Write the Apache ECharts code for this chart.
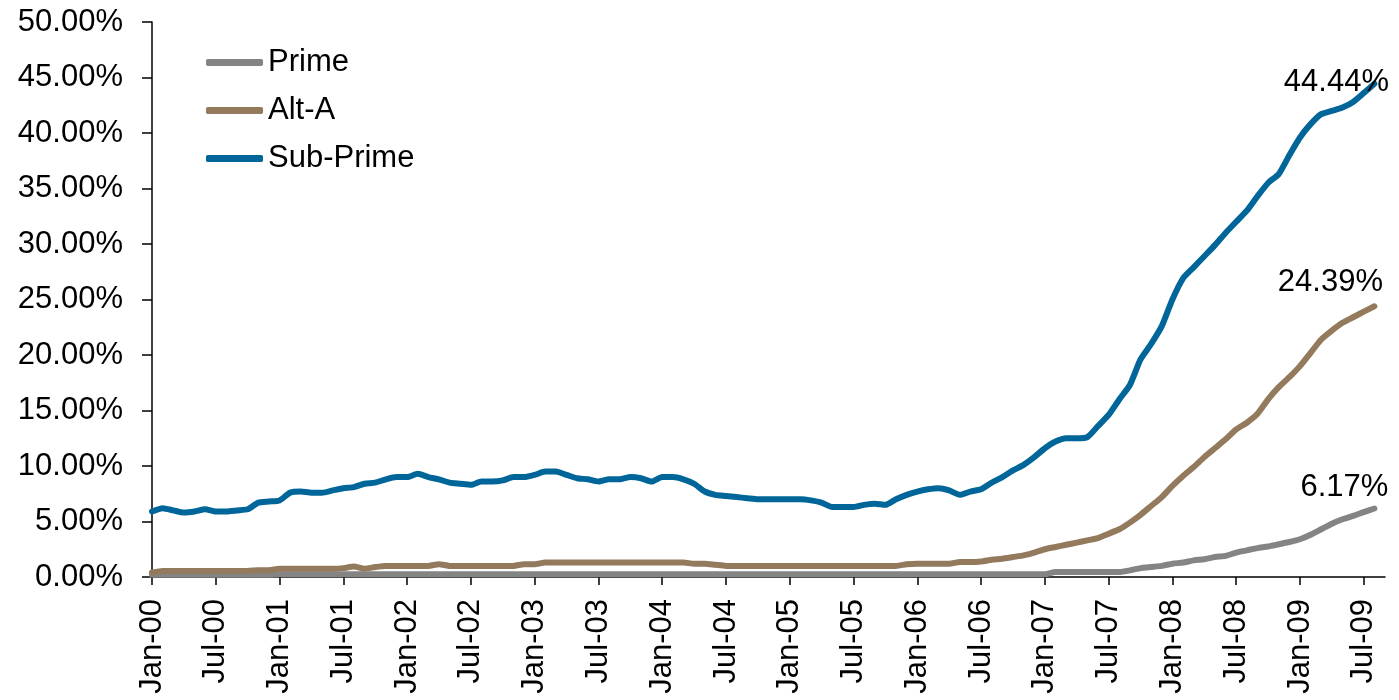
<!DOCTYPE html>
<html>
<head>
<meta charset="utf-8">
<script src="https://cdn.jsdelivr.net/npm/echarts@6/dist/echarts.min.js"></script>
<style>
html,body{margin:0;padding:0;background:#fff;}
#chart{width:1399px;height:700px;}
</style>
</head>
<body>
<div id="chart"></div>
<script>
// Month categories Jan-00 .. Sep-09
const monthNames = ['Jan','Feb','Mar','Apr','May','Jun','Jul','Aug','Sep','Oct','Nov','Dec'];
const years = ['00','01','02','03','04','05','06','07','08','09'];
const categories = [];
years.forEach(y => monthNames.forEach((m, i) => { if (!(y === '09' && i > 8)) categories.push(m + '-' + y); }));

const seriesNames = ['Prime', 'Alt-A', 'Sub-Prime'];

const prime = [
  0.2,0.2,0.2,0.2,0.2,0.2,0.2,0.2,0.2,0.2,0.2,0.2,
  0.25,0.25,0.25,0.25,0.25,0.25,0.25,0.25,0.25,0.25,0.25,0.25,
  0.25,0.25,0.25,0.25,0.25,0.25,0.25,0.25,0.25,0.25,0.25,0.25,
  0.25,0.25,0.25,0.25,0.25,0.25,0.25,0.25,0.25,0.25,0.25,0.25,
  0.25,0.25,0.25,0.25,0.25,0.25,0.25,0.25,0.25,0.25,0.25,0.25,
  0.25,0.25,0.25,0.25,0.25,0.25,0.25,0.25,0.25,0.25,0.25,0.25,
  0.25,0.25,0.25,0.25,0.25,0.25,0.25,0.25,0.25,0.25,0.25,0.25,
  0.25,0.45,0.45,0.45,0.45,0.45,0.45,0.45,0.6,0.8,0.9,1.0,
  1.2,1.3,1.5,1.6,1.8,1.9,2.2,2.4,2.6,2.75,2.95,3.15,
  3.4,3.8,4.3,4.8,5.2,5.5,5.85,6.17
];

const altA = [
  0.4,0.55,0.55,0.55,0.55,0.55,0.55,0.55,0.55,0.55,0.6,0.6,
  0.75,0.75,0.75,0.75,0.75,0.75,0.8,0.95,0.75,0.9,1.0,1.0,
  1.0,1.0,1.0,1.15,1.0,1.0,1.0,1.0,1.0,1.0,1.0,1.15,
  1.15,1.3,1.3,1.3,1.3,1.3,1.3,1.3,1.3,1.3,1.3,1.3,
  1.3,1.3,1.3,1.2,1.2,1.1,1.0,1.0,1.0,1.0,1.0,1.0,
  1.0,1.0,1.0,1.0,1.0,1.0,1.0,1.0,1.0,1.0,1.0,1.15,
  1.2,1.2,1.2,1.2,1.35,1.35,1.4,1.55,1.65,1.8,1.95,2.2,
  2.5,2.7,2.9,3.1,3.3,3.5,3.9,4.3,4.9,5.6,6.4,7.2,
  8.2,9.1,9.9,10.8,11.6,12.4,13.3,13.9,14.7,16.0,17.1,18.0,
  19.0,20.2,21.4,22.2,22.9,23.4,23.9,24.39
];

const subPrime = [
  5.9,6.2,6.0,5.8,5.9,6.1,5.9,5.9,6.0,6.1,6.7,6.8,
  6.9,7.6,7.7,7.6,7.6,7.8,8.0,8.1,8.4,8.5,8.8,9.0,
  9.0,9.3,9.0,8.8,8.5,8.4,8.3,8.6,8.6,8.7,9.0,9.0,
  9.2,9.5,9.5,9.2,8.9,8.8,8.6,8.8,8.8,9.0,8.9,8.6,
  9.0,9.0,8.8,8.4,7.7,7.4,7.3,7.2,7.1,7.0,7.0,7.0,
  7.0,7.0,6.9,6.7,6.3,6.3,6.3,6.5,6.6,6.5,7.0,7.4,
  7.7,7.9,8.0,7.8,7.4,7.7,7.9,8.5,9.0,9.6,10.1,10.8,
  11.6,12.2,12.5,12.5,12.6,13.6,14.6,16.0,17.3,19.6,21.0,22.6,
  25.0,26.9,27.9,28.9,29.9,31.0,32.0,33.0,34.3,35.5,36.3,38.0,
  39.6,40.8,41.7,42.0,42.3,42.8,43.6,44.44
];

const colors = ['#848484', '#947A5C', '#006699'];
const endOffsets = [[-30, -21], [-44, -24], [-38, -1]];
const FONT = "'Liberation Sans', Arial, sans-serif";
const dataSets = [prime, altA, subPrime];

const option = {
  animation: false,
  backgroundColor: '#fff',
  grid: { left: 152, right: 14, top: 22, bottom: 123, containLabel: false },
  legend: {
    orient: 'vertical', left: 201, top: 42, itemGap: 17,
    icon: 'roundRect', itemWidth: 57, itemHeight: 7,
    textStyle: { color: '#000', fontSize: 31, fontFamily: FONT },
    data: seriesNames
  },
  xAxis: {
    type: 'category', data: categories, boundaryGap: false,
    axisLine: { lineStyle: { color: '#000', width: 1.5 } },
    axisTick: { show: true, interval: 5, length: 8, lineStyle: { color: '#000', width: 1.5 } },
    axisLabel: { interval: 5, rotate: 90, margin: 22, color: '#000', fontSize: 31, fontFamily: FONT },
    splitLine: { show: false }
  },
  yAxis: {
    type: 'value', min: 0, max: 50, interval: 5,
    axisLine: { show: true, lineStyle: { color: '#000', width: 1.5 } },
    axisTick: { show: true, length: 10, lineStyle: { color: '#000', width: 1.5 } },
    axisLabel: { margin: 29, color: '#000', fontSize: 31, fontFamily: FONT,
      formatter: v => v.toFixed(2) + '%' },
    splitLine: { show: false }
  },
  series: seriesNames.map((name, k) => ({
    name, type: 'line', symbol: 'none', smooth: 0.2,
    data: dataSets[k],
    itemStyle: { color: colors[k] },
    lineStyle: { color: colors[k], width: 6, cap: 'round', join: 'round' },
    endLabel: {
      show: true, distance: 0, offset: endOffsets[k],
      align: 'center', verticalAlign: 'middle',
      formatter: p => Number(p.value).toFixed(2) + '%',
      color: '#000', fontSize: 31, fontFamily: FONT
    },
    z: 2 + k
  }))
};

const chart = echarts.init(document.getElementById('chart'), null, { renderer: 'canvas' });
chart.setOption(option);
</script>
</body>
</html>
